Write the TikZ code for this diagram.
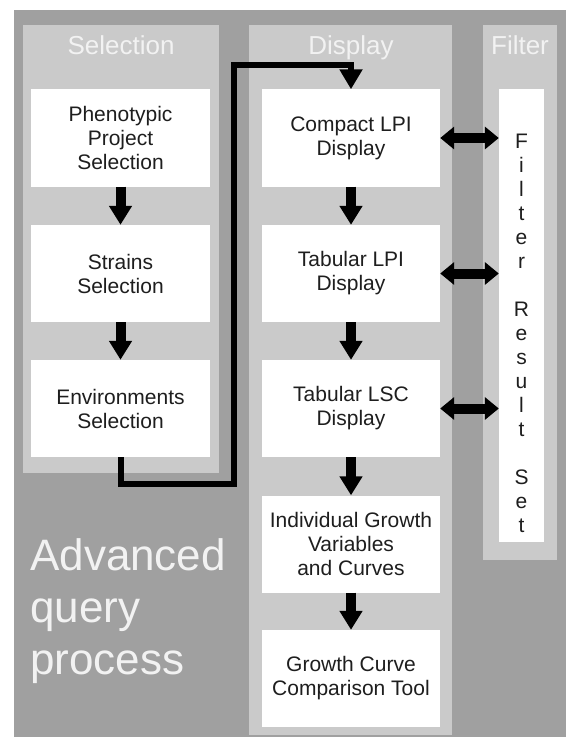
\documentclass[tikz,border=0pt]{standalone}
\usepackage{fontspec}
\setmainfont{Liberation Sans}
\usetikzlibrary{arrows.meta}
\definecolor{outerg}{HTML}{A0A0A0}
\definecolor{panelg}{HTML}{CACACA}
\definecolor{titlec}{HTML}{F2F2F2}
\definecolor{textc}{HTML}{1E1E1E}
\begin{document}
\begin{tikzpicture}[x=1pt,y=-1pt,
  panel/.style={fill=panelg},
  stepbox/.style={fill=white, inner sep=0pt, minimum height=97pt, align=center, text=textc, font=\fontsize{21}{24}\selectfont},
  selbox/.style={stepbox, minimum width=179pt},
  dispbox/.style={stepbox, minimum width=178pt},
  paneltitle/.style={text=titlec, font=\fontsize{26}{30}\selectfont, anchor=base, inner sep=0pt},
  downarrow/.style={line width=10pt, -{Triangle[width=22pt,length=19pt]}},
  bothways/.style={line width=10pt, {Triangle[width=22pt,length=14pt]}-{Triangle[width=22pt,length=14pt]}},
  linkline/.style={line width=6pt, -{Triangle[width=22pt,length=20pt]}}]
\useasboundingbox (0,0) rectangle (566,738);
\fill[white] (0,0) rectangle (566,738);
\fill[outerg] (14,10) rectangle (566,737);
\fill[panel] (23,25) rectangle (219,473);
\fill[panel] (249,25) rectangle (452,735);
\fill[panel] (483,25) rectangle (557,560);
% titles
\node[paneltitle] (tsel) at (121,55) {Selection};
\node[paneltitle] (tdisp) at (351,55) {Display};
\node[paneltitle] (tflt) at (520,55) {Filter};
% selection boxes
\node[selbox] (phe) at (120.5,138) {Phenotypic\\Project\\Selection};
\node[selbox] (str) at (120.5,273.5) {Strains\\Selection};
\node[selbox] (env) at (120.5,408.5) {Environments\\Selection};
% display boxes
\node[dispbox] (cmp) at (351,138) {Compact LPI\\Display};
\node[dispbox] (tlpi) at (351,273.5) {Tabular LPI\\Display};
\node[dispbox] (tlsc) at (351,408.5) {Tabular LSC\\Display};
\node[dispbox] (ind) at (351,544) {Individual Growth\\Variables\\and Curves};
\node[dispbox] (gcc) at (351,678.5) {Growth Curve\\Comparison Tool};
% filter box
\node[fill=white, minimum width=45pt, minimum height=453pt, inner sep=0pt] (flt) at (521.5,315.5) {};
\node[anchor=north, inner sep=0pt, align=center, text=textc, font=\fontsize{21}{24}\selectfont] (flttxt) at (521.5,133.5) {F\\i\\l\\t\\e\\r\\[24pt]R\\e\\s\\u\\l\\t\\[24pt]S\\e\\t};
% big label
\node[anchor=north west, inner sep=0pt, align=left, text=titlec, font=\fontsize{44}{52}\selectfont] (adv) at (30,538.5) {Advanced\\query\\process};
% arrows
\draw[downarrow] (phe.south) -- (str.north);
\draw[downarrow] (str.south) -- (env.north);
\draw[downarrow] (cmp.south) -- (tlpi.north);
\draw[downarrow] (tlpi.south) -- (tlsc.north);
\draw[downarrow] (tlsc.south) -- (ind.north);
\draw[downarrow] (ind.south) -- (gcc.north);
\draw[bothways] (cmp.east) -- (cmp.east -| flt.west);
\draw[bothways] (tlpi.east) -- (tlpi.east -| flt.west);
\draw[bothways] (tlsc.east) -- (tlsc.east -| flt.west);
\coordinate (lk1) at (234,484);
\coordinate (lk2) at (234,65);
\draw[linkline] (env.south) |- (lk1) -- (lk2) -| (cmp.north);
\end{tikzpicture}
\end{document}
